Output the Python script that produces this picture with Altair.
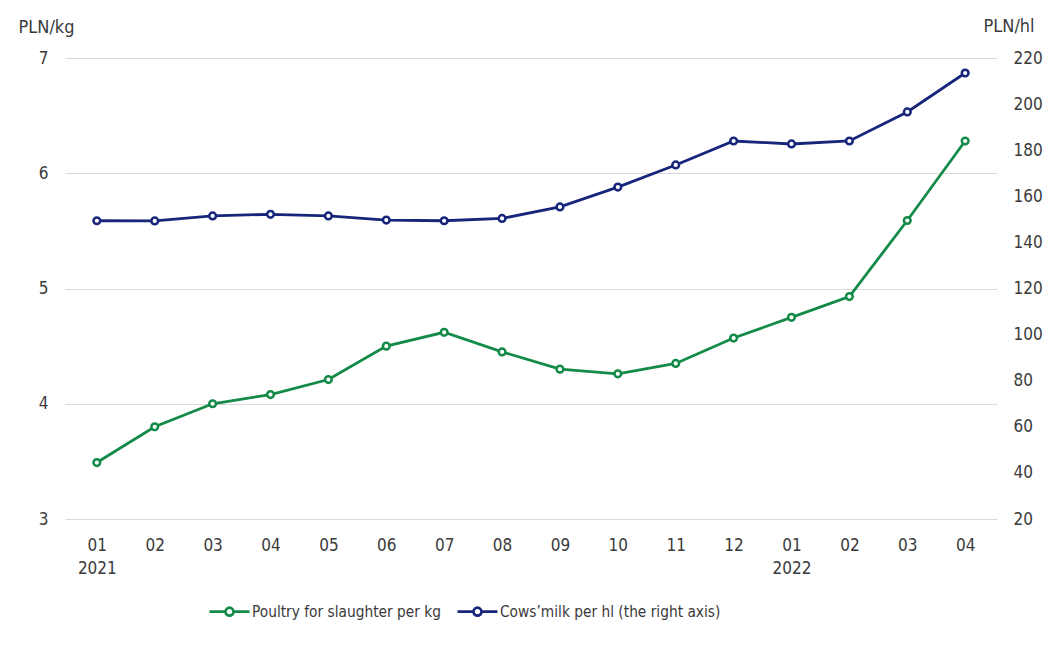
import altair as alt
import pandas as pd

months = ["01", "02", "03", "04", "05", "06", "07", "08", "09", "10", "11", "12", "01", "02", "03", "04"]
years = ["2021"] * 12 + ["2022"] * 4
poultry = [3.49, 3.80, 4.00, 4.08, 4.21, 4.50, 4.62, 4.45, 4.30, 4.26, 4.35, 4.57, 4.75, 4.93, 5.59, 6.28]
milk = [149.4, 149.3, 151.5, 152.2, 151.5, 149.7, 149.4, 150.4, 155.4, 164.0, 173.6, 184.0, 182.7, 184.0, 196.6, 213.5]
series = ["Poultry for slaughter per kg", "Cows’milk per hl (the right axis)"]
colors = ["#138a48", "#17257a"]
left_ticks = [3, 4, 5, 6, 7]
right_ticks = [20, 40, 60, 80, 100, 120, 140, 160, 180, 200, 220]

keys = [f"{m}|{y}" for m, y in zip(months, years)]
df_p = pd.DataFrame({"key": keys, "value": poultry, "series": series[0]})
df_m = pd.DataFrame({"key": keys, "value": milk, "series": series[1]})

FONT = "DejaVu Sans Condensed, DejaVu Sans, sans-serif"
FS = 17
TFS = 18
TXT = "#3a3a3a"

# first month of each year shows the year on a second line
label_expr = "split(datum.value, '|')[0] == '01' ? split(datum.value, '|') : split(datum.value, '|')[0]"

x = alt.X("key:N", sort=keys, title=None,
          scale=alt.Scale(type="point", padding=0.55),
          axis=alt.Axis(labelExpr=label_expr, labelAngle=0, domain=False, ticks=False,
                        grid=False, labelPadding=18, labelFontSize=FS, labelLineHeight=23,
                        labelColor=TXT, labelFont=FONT, labelBaseline="top"))

sym_path = "M-1,0L-0.2,0M0.2,0L1,0M-0.2,0A0.2,0.2,0,1,1,0.2,0A0.2,0.2,0,1,1,-0.2,0"

color = alt.Color("series:N", scale=alt.Scale(domain=series, range=colors),
                  legend=alt.Legend(title=None, orient="none", direction="horizontal",
                                    legendX=143, legendY=532, symbolType=sym_path,
                                    symbolSize=1600, symbolStrokeWidth=2.6,
                                    labelFontSize=15.3, labelFont=FONT, labelColor=TXT,
                                    labelLimit=0, labelOffset=1, columnPadding=10,
                                    symbolFillColor="white"))

y_left = alt.Y("value:Q", title="PLN/kg",
               scale=alt.Scale(domain=[3, 7], nice=False, zero=False),
               axis=alt.Axis(values=left_ticks, domain=False, ticks=False, grid=True,
                             gridColor="#d9d9d9", gridWidth=1, labelPadding=17,
                             labelFontSize=FS, labelFont=FONT, labelColor=TXT,
                             titleAngle=0, titleX=-47, titleY=-26, titleAlign="left",
                             titleBaseline="alphabetic", titleFontSize=TFS, titleFont=FONT,
                             titleFontWeight="normal", titleColor=TXT))

y_right = alt.Y("value:Q", title="PLN/hl",
                scale=alt.Scale(domain=[20, 220], nice=False, zero=False),
                axis=alt.Axis(orient="right", values=right_ticks, domain=False, ticks=False,
                              grid=False, labelPadding=16, labelFontSize=FS, labelFont=FONT,
                              labelColor=TXT, titleAngle=0, titleX=-14, titleY=-27,
                              titleAlign="left", titleBaseline="alphabetic", titleFontSize=TFS,
                              titleFont=FONT, titleFontWeight="normal", titleColor=TXT))

line_p = alt.Chart(df_p).mark_line(strokeWidth=2.8).encode(x=x, y=y_left, color=color)
pt_p = alt.Chart(df_p).mark_point(filled=False, fill="white", size=45, strokeWidth=2.5, opacity=1).encode(x=x, y=y_left, color=color)
line_m = alt.Chart(df_m).mark_line(strokeWidth=2.8).encode(x=x, y=y_right, color=color)
pt_m = alt.Chart(df_m).mark_point(filled=False, fill="white", size=45, strokeWidth=2.5, opacity=1).encode(x=x, y=y_right, color=color)

left = alt.layer(line_p, pt_p)
right = alt.layer(line_m, pt_m)

chart = alt.layer(left, right).resolve_scale(y="independent").properties(
    width=932, height=461,
    background="white",
    autosize=alt.AutoSizeParams(type="none"),
    padding={"left": 57, "top": 50, "right": 50, "bottom": 120},
).configure_view(strokeWidth=0, stroke="transparent").configure_axis(
    domain=False, ticks=False
).configure_axisX(grid=False)

chart.save("out.html", embed_options={"renderer": "svg", "actions": False})
